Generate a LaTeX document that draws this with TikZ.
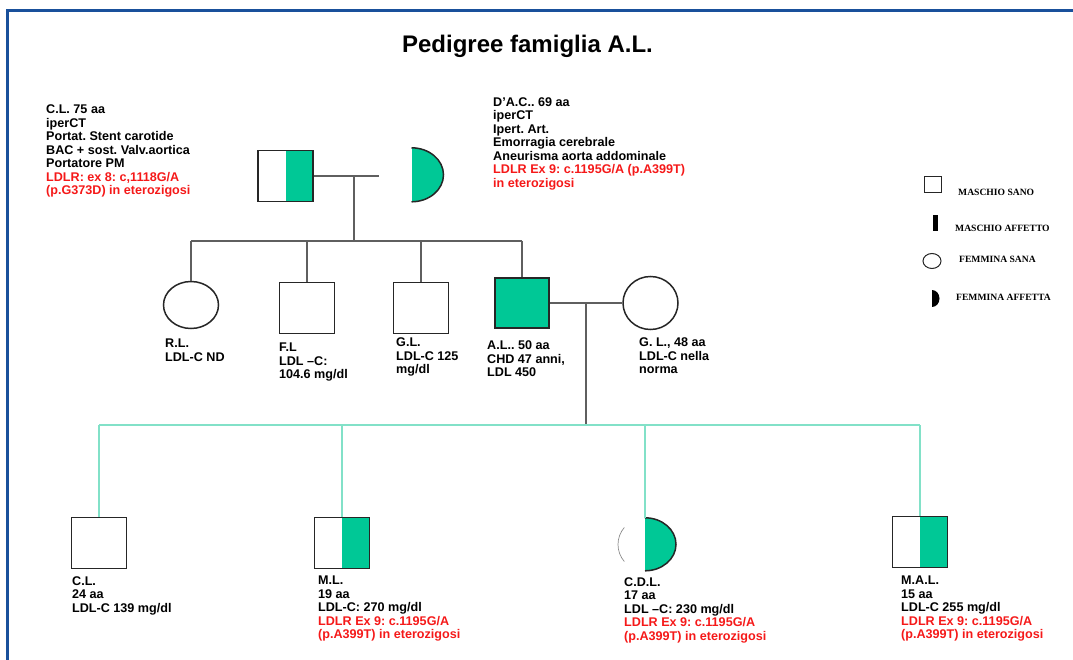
\documentclass[tikz,border=0pt]{standalone}
\usepackage{fontspec}
\setmainfont{Liberation Sans}
\newfontfamily\legendafont{Liberation Serif}
\usetikzlibrary{shapes.geometric}
\definecolor{verde}{RGB}{0,200,150}
\definecolor{rosso}{RGB}{245,25,25}
\definecolor{acqua}{RGB}{130,225,200}
\definecolor{cornice}{RGB}{25,80,155}
\definecolor{grigio}{RGB}{95,95,95}
\newcommand{\rosso}[1]{\textcolor{rosso}{#1}}
\frenchspacing
\tikzset{
  maschio/.style = {draw = black!85, line width = 1.8pt, inner sep = 0pt, minimum width = 55pt, minimum height = 51pt},
  affetto/.style = {maschio, fill = verde},
  portatore/.style = {maschio, path picture = {\fill[#1] (path picture bounding box.north) rectangle (path picture bounding box.south east);}},
  portatore/.default = verde,
  femmina/.style = {ellipse, draw = black!85, line width = 1.5pt, inner sep = 0pt, minimum width = 55pt, minimum height = 47pt},
  portatrice/.style = {ellipse, inner sep = 0pt, path picture = {\fill[#1] (path picture bounding box.north) rectangle (path picture bounding box.south east);}},
  portatrice/.default = verde,
  info/.style = {anchor = north west, align = left, inner sep = 0pt, font = \bfseries\fontsize{12.6}{13.5}\selectfont},
  legenda/.style = {anchor = west, inner sep = 0pt, font = \legendafont\bfseries\fontsize{9.6}{11}\selectfont},
  linea/.style = {draw = grigio, line width = 1.2pt},
  lineafigli/.style = {draw = acqua, line width = 1.2pt}
}
\begin{document}
\begin{tikzpicture}[x = 1pt, y = -1pt]
\useasboundingbox (0,0) rectangle (1073,660);
\draw[cornice, line width = 3pt] (7.5,10.5) rectangle (1100,700);
\node[font = \bfseries\fontsize{24}{28}\selectfont] (titolo) at (527.5,46) {Pedigree famiglia A.L.};

\node[portatore] (cl) at (285.5,176) {};
\node[portatrice, minimum width = 64pt, minimum height = 54pt] (dac) at (411.5,175) {};
\draw[black!85, line width = 1.5pt] (dac.north) arc[start angle = 90, end angle = -90, x radius = 32pt, y radius = 27pt];
\node[info] (clinfo) at (46,105) {C.L. 75 aa\\iperCT\\Portat. Stent carotide\\BAC + sost. Valv.aortica\\Portatore PM\\\rosso{LDLR: ex 8: c,1118G/A}\\\rosso{(p.G373D) in eterozigosi}};
\node[info] (dacinfo) at (493,97.5) {D’A.C.. 69 aa\\iperCT\\Ipert. Art.\\Emorragia cerebrale\\Aneurisma aorta addominale\\\rosso{LDLR Ex 9: c.1195G/A (p.A399T)}\\\rosso{in eterozigosi}};
\coordinate (m1) at (354,176);
\coordinate (s1) at (354,241);
\draw[linea] (cl.east) -- (cl.east -| dac.west);
\draw[linea] (m1) -- (s1);

\node[femmina] (rl) at (191,305) {};
\node[maschio] (fl) at (307,308) {};
\node[maschio] (gl) at (421,308) {};
\node[affetto, minimum width = 54pt, minimum height = 50pt] (al) at (522,303) {};
\node[femmina, minimum height = 53pt] (gln) at (650.5,303) {};
\draw[linea] (rl.north |- s1) -- (al.north |- s1);
\foreach \n in {rl, fl, gl, al}
  \draw[linea] (\n.north |- s1) -- (\n.north);
\node[info] (rlinfo) at (165,339) {R.L.\\LDL-C ND};
\node[info] (flinfo) at (279,343) {F.L\\LDL –C:\\104.6 mg/dl};
\node[info] (glinfo) at (396,338) {G.L.\\LDL-C 125\\mg/dl};
\node[info] (alinfo) at (487,341) {A.L.. 50 aa\\CHD 47 anni,\\LDL 450};
\node[info] (glninfo) at (639,338) {G. L., 48 aa\\LDL-C nella\\norma};
\coordinate (m2) at (586,303);
\coordinate (s2) at (586,425);
\draw[linea] (al.east) -- (al.east -| gln.west);
\draw[linea] (m2) -- (s2);

\node[maschio] (cl3) at (99,543) {};
\node[portatore] (ml) at (342,543) {};
\node[portatrice, minimum width = 62pt, minimum height = 53pt] (cdl) at (645,544.5) {};
\draw[black!85, line width = 1.5pt] (cdl.north) arc[start angle = 90, end angle = -90, x radius = 31pt, y radius = 26.5pt];
\draw[black!45, line width = .7pt] (cdl.center) ++(140:27pt and 26.5pt) arc[start angle = 140, end angle = 220, x radius = 27pt, y radius = 26.5pt];
\node[portatore] (mal) at (920,542) {};
\draw[lineafigli] (cl3.north |- s2) -- (mal.north |- s2);
\foreach \n in {cl3, ml, cdl, mal}
  \draw[lineafigli] (\n.north |- s2) -- (\n.north);
\node[info] (cl3info) at (72,576) {C.L.\\24 aa\\LDL-C 139 mg/dl};
\node[info] (mlinfo) at (318,576) {M.L.\\19 aa\\LDL-C: 270 mg/dl\\\rosso{LDLR Ex 9: c.1195G/A}\\\rosso{(p.A399T) in eterozigosi}};
\node[info] (cdlinfo) at (624,577) {C.D.L.\\17 aa\\LDL –C: 230 mg/dl\\\rosso{LDLR Ex 9: c.1195G/A}\\\rosso{(p.A399T) in eterozigosi}};
\node[info] (malinfo) at (901,576) {M.A.L.\\15 aa\\LDL-C 255 mg/dl\\\rosso{LDLR Ex 9: c.1195G/A}\\\rosso{(p.A399T) in eterozigosi}};

\node[maschio, line width = 1pt, minimum width = 17pt, minimum height = 16pt] (legms) at (932.5,185) {};
\node[legenda] (legmstxt) at (958,192) {MASCHIO SANO};
\node[fill = black, inner sep = 0pt, minimum width = 5pt, minimum height = 16pt] (legma) at (935,223) {};
\node[legenda] (legmatxt) at (955,228) {MASCHIO AFFETTO};
\node[femmina, line width = 1pt, minimum width = 18pt, minimum height = 15pt] (legfs) at (932,261) {};
\node[legenda] (legfstxt) at (959,259) {FEMMINA SANA};
\node[portatrice = black, minimum width = 15pt, minimum height = 17pt] (legfa) at (932,298.5) {};
\node[legenda] (legfatxt) at (956,297) {FEMMINA AFFETTA};
\end{tikzpicture}
\end{document}
